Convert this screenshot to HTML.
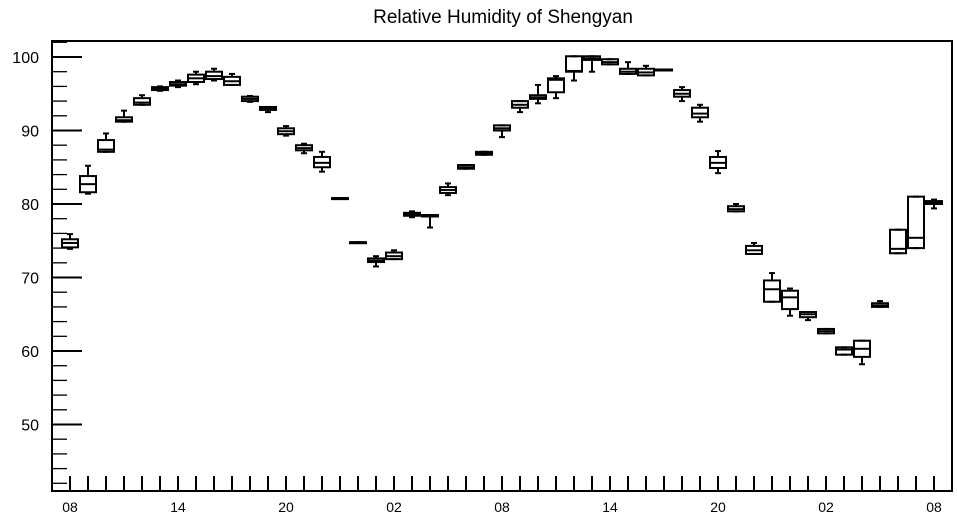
<!DOCTYPE html>
<html><head><meta charset="utf-8"><style>
body{margin:0;background:#fff;}
svg{display:block;font-family:"Liberation Sans",Arial,sans-serif;}
</style></head><body>
<svg id="chart" width="957" height="520" viewBox="0 0 957 520">
<text x="503" y="23" text-anchor="middle" font-size="19">Relative Humidity of Shengyan</text>
<g id="axes"></g>
<g id="boxes"></g>
</svg>
<script>
const hourLabels = ["08","14","20","02","08","14","20","02","08"];
const yTicks = [50,60,70,80,90,100];
const mins =   [73.9,81.4,87.1,91.2,93.5,95.4,95.9,96.3,96.8,96.2,93.9,92.5,89.3,86.9,84.4,80.8,74.8,71.5,72.5,78.2,76.8,81.2,84.8,86.7,89.1,92.5,93.7,94.4,96.8,98.0,99.0,97.7,97.5,98.2,94.0,91.2,84.2,79.0,73.2,66.7,64.8,64.2,62.4,59.5,58.2,66.0,73.3,74.0,79.4];
const q1s =    [74.1,81.6,87.1,91.2,93.5,95.5,96.1,96.6,97.0,96.2,94.0,92.8,89.5,87.3,85.0,80.8,74.8,72.1,72.5,78.4,78.3,81.5,84.8,86.7,90.0,93.1,94.3,95.2,98.0,99.6,99.0,97.7,97.5,98.2,94.6,91.8,84.9,79.0,73.2,66.7,65.7,64.6,62.4,59.5,59.2,66.0,73.3,74.0,80.0];
const medians =[74.7,82.7,87.4,91.4,93.8,95.7,96.3,97.1,97.4,96.7,94.3,93.0,89.9,87.6,85.6,80.8,74.8,72.3,72.9,78.6,78.4,81.9,85.0,86.9,90.3,93.5,94.5,96.9,98.1,99.8,99.3,98.0,97.9,98.2,95.0,92.3,85.6,79.3,73.7,68.4,67.3,65.0,62.7,60.2,60.3,66.2,73.9,75.4,80.2];
const q3s =    [75.2,83.8,88.7,91.8,94.4,95.9,96.6,97.6,98.0,97.3,94.6,93.2,90.3,88.0,86.4,80.8,74.8,72.6,73.4,78.8,78.5,82.3,85.3,87.1,90.7,94.0,94.8,97.1,100.1,100.1,99.7,98.4,98.4,98.3,95.5,93.1,86.4,79.7,74.3,69.6,68.2,65.3,63.0,60.5,61.4,66.5,76.5,81.0,80.4];
const maxs =   [75.9,85.2,89.6,92.7,94.8,96.0,96.8,98.0,98.4,97.7,94.7,93.2,90.6,88.2,87.1,80.8,74.8,72.9,73.7,79.0,78.5,82.8,85.3,87.1,90.7,94.0,96.2,97.4,100.1,100.1,99.7,99.3,98.8,98.3,95.9,93.5,87.2,80.0,74.7,70.6,68.5,65.3,63.0,60.5,61.4,66.8,76.5,81.0,80.6];

const NS="http://www.w3.org/2000/svg";
const L=52,R=952,T=41,B=491;
const X=i=>70+i*18;
const Y=v=>57+(100-v)*7.35;
function mk(tag,attrs,parent){const e=document.createElementNS(NS,tag);for(const k in attrs)e.setAttribute(k,attrs[k]);parent.appendChild(e);return e;}
const ax=document.getElementById('axes');
const frame=mk('rect',{x:L,y:T,width:R-L,height:B-T,fill:'none',stroke:'#000','stroke-width':2},ax);


for(let v=42;v<=102;v+=2){
  if(Y(v)<T||Y(v)>B)continue;
  const major=v%10===0;
  const t=mk('line',{x1:L,x2:L+(major?30:15),y1:Y(v),y2:Y(v),stroke:'#000','stroke-width':major?2:1.3},ax);
  
  
}
yTicks.forEach(v=>{
  const t=mk('text',{x:39,y:Y(v)+6,'text-anchor':'end','font-size':16},ax);
  t.textContent=v;
  
  
});
for(let i=0;i<49;i++){
  const t=mk('line',{x1:X(i),x2:X(i),y1:B,y2:B-15,stroke:'#000','stroke-width':2},ax);
  
  
}
hourLabels.forEach((s,k)=>{
  const t=mk('text',{x:X(k*6),y:512,'text-anchor':'middle','font-size':14},ax);
  t.textContent=s;
  
  
});
const bx=document.getElementById('boxes');
for(let i=0;i<medians.length;i++){
  const g=mk('g',{stroke:'#000','stroke-width':2,fill:'none'},bx);
  
  
  const x=X(i),w=8;
  mk('line',{x1:x,x2:x,y1:Y(maxs[i]),y2:Y(q3s[i])},g);
  mk('line',{x1:x,x2:x,y1:Y(q1s[i]),y2:Y(mins[i])},g);
  mk('line',{x1:x-3,x2:x+3,y1:Y(maxs[i]),y2:Y(maxs[i])},g);
  mk('line',{x1:x-3,x2:x+3,y1:Y(mins[i]),y2:Y(mins[i])},g);
  mk('rect',{x:x-w,y:Y(q3s[i]),width:2*w,height:Math.max(Y(q1s[i])-Y(q3s[i]),1)},g);
  mk('line',{x1:x-w,x2:x+w,y1:Y(medians[i]),y2:Y(medians[i])},g);
}
</script>
</body></html>
